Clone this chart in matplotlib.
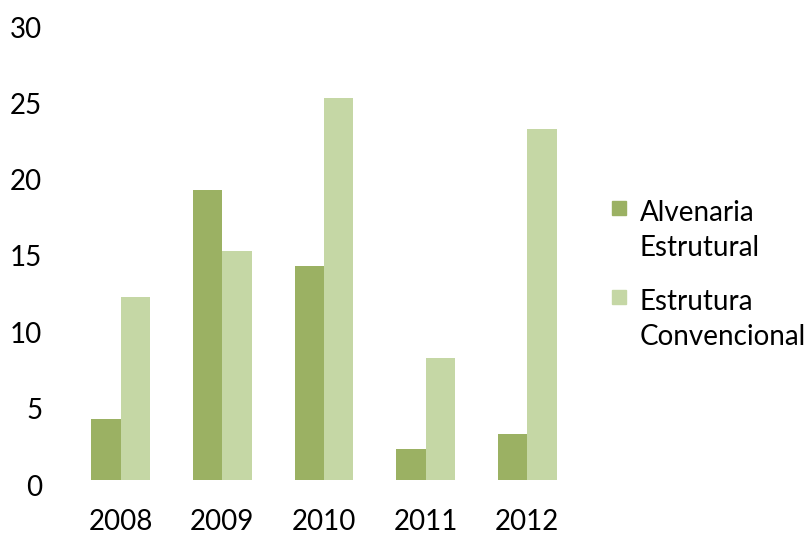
import matplotlib.pyplot as plt
import matplotlib.transforms as mtransforms
from matplotlib.patches import Rectangle
import numpy as np

# --- Data ---
years = ['2008', '2009', '2010', '2011', '2012']
alvenaria = [4, 19, 14, 2, 3]
convencional = [12, 15, 25, 8, 23]
series_names = ['Alvenaria\nEstrutural', 'Estrutura\nConvencional']

dark = '#9BB163'
light = '#C5D7A5'

plt.rcParams['font.family'] = ['Lato', 'DejaVu Sans']

fig = plt.figure(figsize=(8.12, 5.35), dpi=100)
ax = fig.add_axes([70 / 812, 1 - 480 / 535, 508 / 812, 458 / 535])

x = np.arange(len(years))
w = 0.29
ax.bar(x - w / 2, alvenaria, w, color=dark)
ax.bar(x + w / 2, convencional, w, color=light)

ax.set_xlim(-0.5, len(years) - 0.5)
ax.set_ylim(0, 30)
ax.set_yticks(range(0, 31, 5))
ax.set_xticks(x)
ax.set_xticklabels(years)
for s in ax.spines.values():
    s.set_visible(False)
ax.tick_params(axis='both', length=0, labelsize=20, colors='black')
ax.tick_params(axis='y', pad=20)
ax.tick_params(axis='x', pad=21)

# nudge y labels down a bit like the original
off = mtransforms.ScaledTranslation(0, -5 / 100, fig.dpi_scale_trans)
for lab in ax.get_yticklabels():
    lab.set_transform(lab.get_transform() + off)

# --- Legend (square aligned with first line of label) ---
for i, (name, col) in enumerate(zip(series_names, [dark, light])):
    top = 201 + i * 89
    fig.patches.append(Rectangle((612 / 812, 1 - (top + 14) / 535), 14 / 812, 14 / 535,
                                 transform=fig.transFigure, color=col))
    fig.text(640 / 812, 1 - (top - 1) / 535, name, fontsize=20, va='top', ha='left',
             linespacing=1.45)

plt.savefig('out.png', dpi=100)
